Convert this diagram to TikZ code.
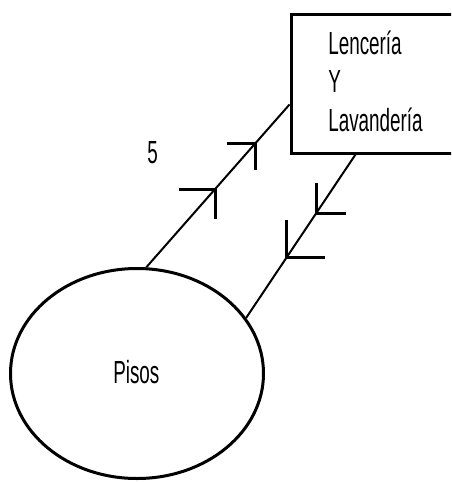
\documentclass[tikz,border=0pt]{standalone}
\usepackage{fontspec}
\setmainfont[FakeStretch=0.59]{Liberation Sans}
\usetikzlibrary{shapes.geometric,calc}
\tikzset{
  shapeline/.style={draw=black, line width=2.25pt},
  conn/.style={draw=black, line width=1.5pt},
  tick/.style={draw=black, line width=2.25pt},
  lbl/.style={inner sep=0pt, anchor=base west, font=\fontsize{24}{28.5}\selectfont},
}
\begin{document}
\begin{tikzpicture}[x=0.75pt,y=-0.75pt]
\useasboundingbox (0,0) rectangle (451,482);
\fill[white] (0,0) rectangle (451,482);
\clip (0,0) rectangle (451,482);
% nodes
\node[shapeline, ellipse, minimum width=189.75pt, minimum height=157.5pt, inner sep=0pt] (pisos) at (137,373.5) {};
\node[shapeline, rectangle, anchor=north west, minimum width=135pt, minimum height=104.25pt, inner sep=0pt] (box) at (289.5,12.5) {};
\node[lbl] (t1) at (328,54) {Lencería};
\node[lbl] (t2) at (328,92) {Y};
\node[lbl] (t3) at (328,131) {Lavandería};
\node[lbl] (pisostext) at (113,383) {Pisos};
\node[lbl] (five) at (147,163) {5};
% connectors
\coordinate (outB) at ([xshift=49.5pt]box.south west);
\draw[conn] (pisos.85) -- coordinate[pos=0.48] (m1) coordinate[pos=0.76] (m2) ([yshift=37.5pt]box.south west);
\draw[conn] (outB) -- coordinate[pos=0.36] (m3) coordinate[pos=0.63] (m4) (pisos.27);
% flow marks
\draw[tick] ([xshift=-27pt]m1) -- (m1) -- ([yshift=-22.5pt]m1);
\draw[tick] ([xshift=-21pt]m2) -- (m2) -- ([yshift=-19.5pt]m2);
\draw[tick] ([yshift=22.5pt]m3) -- (m3) -- ([xshift=22.5pt]m3);
\draw[tick] ([yshift=27.75pt]m4) -- (m4) -- ([xshift=28.5pt]m4);
\end{tikzpicture}
\end{document}
